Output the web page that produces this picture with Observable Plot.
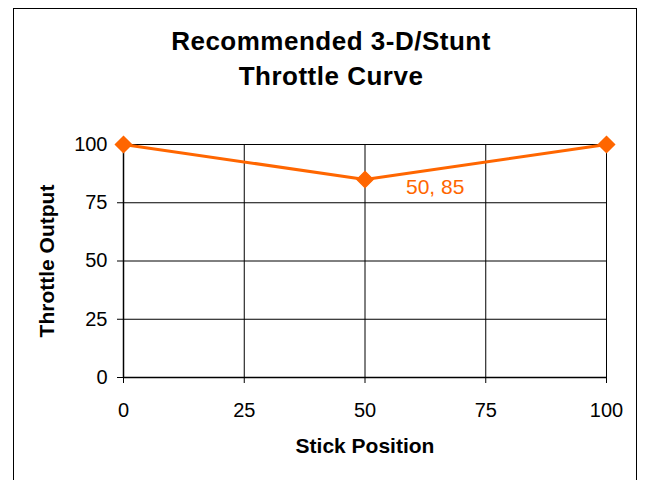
<!DOCTYPE html>
<html>
<head>
<meta charset="utf-8">
<script src="https://cdn.jsdelivr.net/npm/d3@7"></script>
<script src="https://cdn.jsdelivr.net/npm/@observablehq/plot@0.6"></script>
<style>
  html, body { margin: 0; padding: 0; background: #fff; }
  body { width: 646px; height: 480px; position: relative; overflow: hidden; font-family: "Liberation Sans", Arial, sans-serif; }
  #border { position: absolute; left: 13px; top: 8px; width: 624px; height: 480px; border: 1px solid #000; box-sizing: border-box; pointer-events: none; }
  #title { position: absolute; left: 0; top: 24px; width: 662px; text-align: center; font-weight: bold; font-size: 26px; letter-spacing: 0.5px; line-height: 35px; color: #000; }
  #chart { position: absolute; left: 0; top: 0; }
</style>
</head>
<body>
<div id="chart"></div>
<div id="border"></div>
<div id="title">Recommended 3-D/Stunt<br>Throttle Curve</div>
<script>
const stickPosition = [0, 50, 100];
const throttleOutput = [100, 85, 100];
const xTicks = [0, 25, 50, 75, 100];
const yTicks = [0, 25, 50, 75, 100];
const labelIndex = 1;

const data = stickPosition.map((x, i) => ({x, y: throttleOutput[i]}));
const orange = "#FF6600";

const chart = Plot.plot({
  width: 646,
  height: 480,
  marginLeft: 123,
  marginRight: 40,
  marginTop: 144,
  marginBottom: 103,
  style: {fontFamily: "'Liberation Sans', Arial, sans-serif", fontSize: "20px", background: "transparent"},
  x: {domain: [0, 100], ticks: xTicks},
  y: {domain: [0, 100], ticks: yTicks},
  marks: [
    Plot.gridX(xTicks, {stroke: "#000", strokeOpacity: 1, strokeWidth: 1}),
    Plot.gridY(yTicks, {stroke: "#000", strokeOpacity: 1, strokeWidth: 1}),
    Plot.ruleX([0], {stroke: "#000", strokeWidth: 1.5}),
    Plot.ruleY([0], {stroke: "#000", strokeWidth: 1.5}),
    Plot.axisX(xTicks, {label: null, tickSize: 6, tickPadding: 19, fontSize: 20, fill: "#000", stroke: "#000"}),
    Plot.axisY(yTicks, {label: null, tickSize: 6, tickPadding: 10, fontSize: 20, fill: "#000", stroke: "#000"}),
    Plot.text(["Stick Position"], {frameAnchor: "bottom", dy: 75, fontSize: 21, fontWeight: "bold", fill: "#000"}),
    Plot.text(["Throttle Output"], {frameAnchor: "left", textAnchor: "middle", rotate: -90, dx: -76, fontSize: 21, fontWeight: "bold", fill: "#000"}),
    Plot.line(data, {x: "x", y: "y", stroke: orange, strokeWidth: 3}),
    Plot.dot(data, {x: "x", y: "y", symbol: "diamond2", r: 7.2, fill: orange, stroke: orange}),
    Plot.text([data[labelIndex]], {x: "x", y: "y", text: d => `${d.x}, ${d.y}`, textAnchor: "start", dx: 41, dy: 8, fontSize: 21, fill: orange})
  ]
});
document.getElementById("chart").appendChild(chart);
</script>
</body>
</html>
